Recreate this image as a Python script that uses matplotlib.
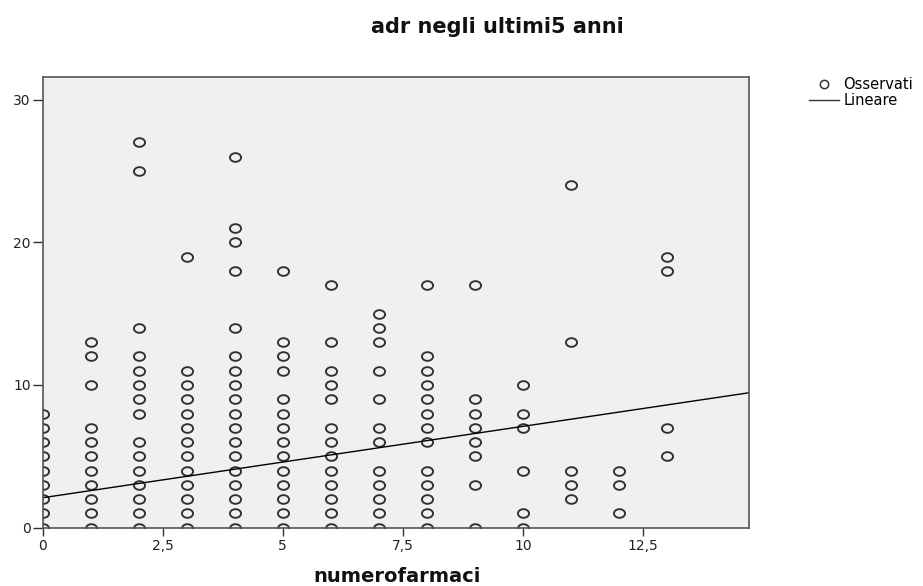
import matplotlib
matplotlib.use("Agg")
import matplotlib.pyplot as plt
import numpy as np
from matplotlib.path import Path
from matplotlib.lines import Line2D

# ---- data ----
x_values = [0, 1, 2, 3, 4, 5, 6, 7, 8, 9, 10, 11, 12, 13]
y_at_0 = [0, 1, 2, 3, 4, 5, 6, 7, 8]
y_at_1 = [0, 1, 2, 3, 4, 5, 6, 7, 10, 12, 13]
y_at_2 = [0, 1, 2, 3, 4, 5, 6, 8, 9, 10, 11, 12, 14, 25, 27]
y_at_3 = [0, 1, 2, 3, 4, 5, 6, 7, 8, 9, 10, 11, 19]
y_at_4 = [0, 1, 2, 3, 4, 5, 6, 7, 8, 9, 10, 11, 12, 14, 18, 20, 21, 26]
y_at_5 = [0, 1, 2, 3, 4, 5, 6, 7, 8, 9, 11, 12, 13, 18]
y_at_6 = [0, 1, 2, 3, 4, 5, 6, 7, 9, 10, 11, 13, 17]
y_at_7 = [0, 1, 2, 3, 4, 6, 7, 9, 11, 13, 14, 15]
y_at_8 = [0, 1, 2, 3, 4, 6, 7, 8, 9, 10, 11, 12, 17]
y_at_9 = [0, 3, 5, 6, 7, 8, 9, 17]
y_at_10 = [0, 1, 4, 7, 8, 10]
y_at_11 = [2, 3, 4, 13, 24]
y_at_12 = [1, 3, 4]
y_at_13 = [5, 7, 18, 19]
columns = [y_at_0, y_at_1, y_at_2, y_at_3, y_at_4, y_at_5, y_at_6,
           y_at_7, y_at_8, y_at_9, y_at_10, y_at_11, y_at_12, y_at_13]

fit_intercept = 2.1
fit_slope = 0.50

x_ticks = [0, 2.5, 5, 7.5, 10, 12.5]
x_tick_labels = ["0", "2,5", "5", "7,5", "10", "12,5"]
y_ticks = [0, 10, 20, 30]
y_tick_labels = ["0", "10", "20", "30"]

title = "adr negli ultimi5 anni"
x_label = "numerofarmaci"
legend_labels = ["Osservati", "Lineare"]

# ---- build point arrays ----
xs = np.concatenate([[xv] * len(col) for xv, col in zip(x_values, columns)])
ys = np.concatenate([col for col in columns])

W, H = 923, 586
fig = plt.figure(figsize=(W / 100, H / 100), dpi=100)
ax = fig.add_axes([42.7 / W, 1 - 527.7 / H, (749 - 42.7) / W, (527.7 - 76.7) / H])
ax.set_facecolor("#f0f0f0")

# slightly flattened circle marker
circ = Path.unit_circle()
ell = Path(circ.vertices * np.array([1.0, 0.78]), circ.codes)

ax.plot(xs, ys, linestyle="none", marker=ell, markersize=8.0,
        markerfacecolor="none", markeredgecolor="#2e2e2e", markeredgewidth=1.35)

xmin, xmax = 0, 14.71
ax.set_xlim(xmin, xmax)
ax.set_ylim(0, 31.6)

line_x = np.array([xmin, xmax])
ax.plot(line_x, fit_intercept + fit_slope * line_x, color="black", linewidth=1.0)

for s in ax.spines.values():
    s.set_color("#555555")
    s.set_linewidth(1.2)

ax.set_xticks(x_ticks)
ax.set_xticklabels(x_tick_labels)
ax.set_yticks(y_ticks)
ax.set_yticklabels(y_tick_labels)
ax.tick_params(axis="x", length=6, width=1.0, color="#333333", pad=2,
               labelsize=10, labelcolor="#222222")
ax.tick_params(axis="y", length=7.5, width=1.0, color="#333333", pad=1,
               labelsize=10, labelcolor="#222222")

fig.text(497 / W, 1 - 27 / H, title, ha="center", va="center",
         fontsize=15, fontweight="bold", color="#111111")
fig.text(397 / W, 1 - 577 / H, x_label, ha="center", va="center",
         fontsize=14, fontweight="bold", color="#111111")

handles = [
    Line2D([], [], linestyle="none", marker="o", markersize=6,
           markerfacecolor="none", markeredgecolor="#333333", markeredgewidth=1.1),
    Line2D([], [], color="#333333", linewidth=1.0),
]
fig.legend(handles, legend_labels, loc="upper left",
           bbox_to_anchor=(809 / W, 1 - 77 / H), frameon=False,
           fontsize=10.5, handlelength=2.05, handletextpad=0.3,
           labelspacing=0.1, borderpad=0, borderaxespad=0)

fig.savefig("out.png", dpi=100)
